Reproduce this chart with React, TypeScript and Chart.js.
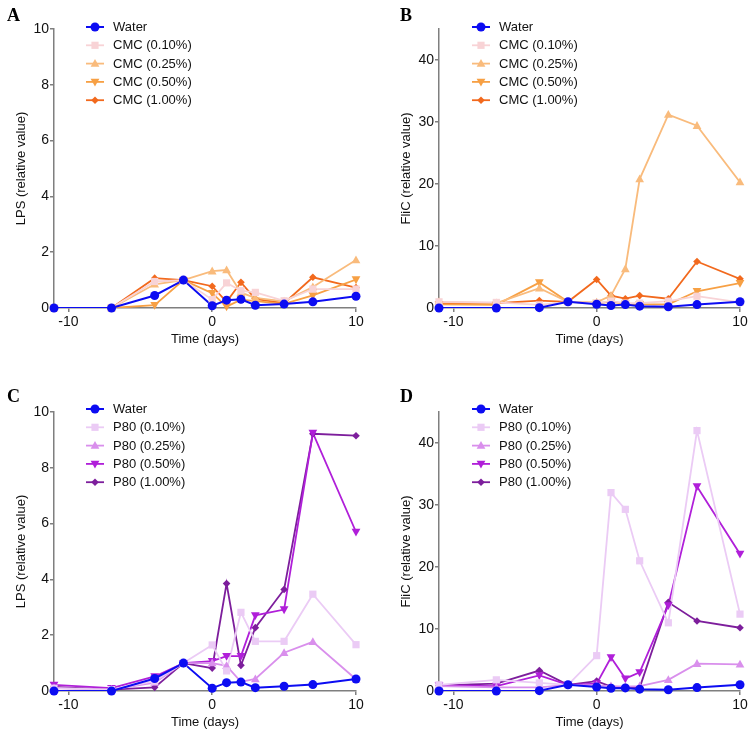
import React, { useEffect, useRef } from "react";
import { Chart, registerables } from "chart.js";
Chart.register(...registerables);

// ---------- data ----------
const days = [-11, -7, -4, -2, 0, 1, 2, 3, 5, 7, 10];
const xTicks = [-10, 0, 10];
const lpsTicks = [0, 2, 4, 6, 8, 10];
const flicTicks = [0, 10, 20, 30, 40];

const cmcLabels = ["Water", "CMC (0.10%)", "CMC (0.25%)", "CMC (0.50%)", "CMC (1.00%)"];
const p80Labels = ["Water", "P80 (0.10%)", "P80 (0.25%)", "P80 (0.50%)", "P80 (1.00%)"];

// Panel A: LPS, CMC
const waterLpsA = [0, 0, 0.45, 1, 0.08, 0.28, 0.31, 0.1, 0.14, 0.22, 0.42];
const cmc010Lps = [0, 0, 0.95, 1, 0.3, 0.9, 0.62, 0.56, 0.26, 0.68, 0.68];
const cmc025Lps = [0, 0, 0.85, 1, 1.32, 1.36, 0.55, 0.36, 0.24, 0.75, 1.72];
const cmc050Lps = [0, 0, 0.1, 1, 0.53, 0.05, 0.3, 0.25, 0.15, 0.45, 1.02];
const cmc100Lps = [0, 0, 1.07, 1, 0.78, 0.22, 0.92, 0.33, 0.17, 1.1, 0.73];

// Panel B: FliC, CMC
const waterFlicB = [0, 0, 0.05, 1.0, 0.6, 0.4, 0.55, 0.3, 0.2, 0.55, 1.0];
const cmc010Flic = [1.0, 0.9, 0.5, 1.0, 0.8, 1.1, 0.8, 0.8, 1.1, 1.9, 0.9];
const cmc025Flic = [1.0, 0.8, 3.2, 1.0, 0.9, 2.0, 6.3, 20.8, 31.2, 29.4, 20.3];
const cmc050Flic = [0.6, 0.5, 4.1, 1.0, 0.8, 1.0, 0.7, 0.6, 0.6, 2.7, 4.0];
const cmc100Flic = [0.8, 0.8, 1.2, 1.0, 4.6, 2.0, 1.5, 2.0, 1.5, 7.5, 4.7];

// Panel C: LPS, P80
const waterLpsC = [0, 0, 0.45, 1, 0.1, 0.3, 0.32, 0.12, 0.17, 0.23, 0.43];
const p80010Lps = [0.1, 0.05, 0.35, 1, 1.65, 0.72, 2.82, 1.78, 1.78, 3.47, 1.66];
const p80025Lps = [0.1, 0.05, 0.3, 1, 1.0, 0.9, 0.33, 0.43, 1.37, 1.76, 0.42];
const p80050Lps = [0.22, 0.1, 0.52, 1, 1.07, 1.25, 1.25, 2.71, 2.92, 9.25, 5.7];
const p80100Lps = [0.15, 0.05, 0.13, 1, 0.82, 3.85, 0.92, 2.27, 3.64, 9.22, 9.15];

// Panel D: FliC, P80
const waterFlicD = [0, 0, 0.05, 1.0, 0.65, 0.45, 0.5, 0.3, 0.2, 0.55, 1.0];
const p80010Flic = [1.0, 1.8, 1.3, 1.0, 5.7, 32, 29.3, 21, 11, 42, 12.4];
const p80025Flic = [0.8, 0.6, 0.6, 1.0, 0.9, 0.8, 0.7, 0.8, 1.8, 4.4, 4.3];
const p80050Flic = [0.9, 0.8, 2.5, 1.0, 1.2, 5.4, 2.0, 3.0, 13.8, 33, 22.1];
const p80100Flic = [0.9, 1.2, 3.3, 1.0, 1.6, 0.7, 0.5, 0.5, 14.3, 11.3, 10.2];

// ---------- styles ----------
const cmcColors = ["#0c0cf2", "#f8d3d6", "#f9bb7c", "#f7a044", "#f2691d"];
const p80Colors = ["#0c0cf2", "#ebcbf5", "#d98fec", "#b01fd9", "#7d1e9c"];
const markers = ["circle", "rect", "triUp", "triDown", "diamond"];
const markerSize = [4.5, 3.6, 4.6, 4.6, 3.8];

const FONT = "Arial, 'Liberation Sans', sans-serif";
const AXIS = "#7f7f7f";

function drawMarker(ctx: CanvasRenderingContext2D, kind: string, x: number, y: number, r: number, color: string) {
  ctx.save();
  ctx.fillStyle = color;
  ctx.beginPath();
  if (kind === "circle") {
    ctx.arc(x, y, r, 0, Math.PI * 2);
  } else if (kind === "rect") {
    ctx.rect(x - r, y - r, 2 * r, 2 * r);
  } else if (kind === "triUp") {
    ctx.moveTo(x, y - r);
    ctx.lineTo(x + r * 0.95, y + r * 0.7);
    ctx.lineTo(x - r * 0.95, y + r * 0.7);
    ctx.closePath();
  } else if (kind === "triDown") {
    ctx.moveTo(x, y + r);
    ctx.lineTo(x + r * 0.95, y - r * 0.7);
    ctx.lineTo(x - r * 0.95, y - r * 0.7);
    ctx.closePath();
  } else {
    ctx.moveTo(x, y - r);
    ctx.lineTo(x + r, y);
    ctx.lineTo(x, y + r);
    ctx.lineTo(x - r, y);
    ctx.closePath();
  }
  ctx.fill();
  ctx.restore();
}

const markerPlugin = {
  id: "customMarkers",
  afterDatasetsDraw(chart: any) {
    const ctx = chart.ctx;
    const n = chart.data.datasets.length;
    for (let i = n - 1; i >= 0; i--) {
      const meta = chart.getDatasetMeta(i);
      const ds = chart.data.datasets[i];
      meta.data.forEach((pt: any) => {
        drawMarker(ctx, markers[i], pt.x, pt.y, markerSize[i], ds.borderColor);
      });
    }
  },
};

const legendPlugin = {
  id: "insideLegend",
  afterDraw(chart: any, _args: any, opts: any) {
    const ctx = chart.ctx;
    ctx.save();
    chart.data.datasets.forEach((ds: any, i: number) => {
      const y = opts.y + i * opts.rowH;
      ctx.strokeStyle = ds.borderColor;
      ctx.lineWidth = ds.borderWidth;
      ctx.beginPath();
      ctx.moveTo(opts.x, y);
      ctx.lineTo(opts.x + 18, y);
      ctx.stroke();
      drawMarker(ctx, markers[i], opts.x + 9, y, markerSize[i], ds.borderColor);
      ctx.fillStyle = "#111";
      ctx.font = `13px ${FONT}`;
      ctx.textBaseline = "middle";
      ctx.textAlign = "left";
      ctx.fillText(ds.label, opts.x + opts.textOff, y + 0.5);
    });
    ctx.restore();
  },
};

type PanelCfg = {
  left: number;
  top: number;
  letter: string;
  labels: string[];
  colors: string[];
  series: number[][];
  ymax: number;
  yTicks: number[];
  ytitle: string;
  yW: number;
  topPad: number;
  rightPad: number;
  xH: number;
  yTitlePad: number;
  xTitlePad: number;
  legX: number;
  legY: number;
  letterX: number;
  letterY: number;
};

const W = 377;
const H = 368;

function Panel({ cfg }: { cfg: PanelCfg }) {
  const ref = useRef<HTMLCanvasElement>(null);
  useEffect(() => {
    if (!ref.current) return;
    const datasets = cfg.series.map((vals, i) => ({
      label: cfg.labels[i],
      data: days.map((d, j) => ({ x: d, y: vals[j] })),
      borderColor: cfg.colors[i],
      backgroundColor: cfg.colors[i],
      borderWidth: i === 0 ? 2 : 1.8,
      pointRadius: 0,
      tension: 0,
    }));
    const chart = new Chart(ref.current, {
      type: "line",
      data: { datasets },
      plugins: [markerPlugin, legendPlugin],
      options: {
        animation: false,
        responsive: false,
        events: [],
        layout: { padding: { left: 0, top: cfg.topPad, right: cfg.rightPad, bottom: 0 } },
        plugins: {
          legend: { display: false },
          tooltip: { enabled: false },
          insideLegend: { x: cfg.legX, y: cfg.legY, rowH: 18.3, textOff: 27 },
        } as any,
        scales: {
          x: {
            type: "linear",
            min: -11,
            max: 10,
            bounds: "data",
            afterBuildTicks: (s: any) => {
              s.ticks = xTicks.map((v) => ({ value: v }));
            },
            afterFit: (s: any) => {
              s.height = cfg.xH;
            },
            grid: { display: true, drawOnChartArea: false, drawTicks: true, tickLength: 4, color: AXIS, lineWidth: 1.5 },
            border: { display: true, color: AXIS, width: 1.5 },
            ticks: { color: "#111", font: { family: FONT, size: 14 }, padding: 2, maxRotation: 0 },
            title: {
              display: true,
              text: "Time (days)",
              color: "#111",
              font: { family: FONT, size: 13 },
              padding: { top: 0, bottom: cfg.xTitlePad },
            },
          },
          y: {
            type: "linear",
            min: 0,
            max: cfg.ymax,
            bounds: "data",
            afterBuildTicks: (s: any) => {
              s.ticks = cfg.yTicks.map((v) => ({ value: v }));
            },
            afterFit: (s: any) => {
              s.width = cfg.yW;
            },
            grid: { display: true, drawOnChartArea: false, drawTicks: true, tickLength: 4, color: AXIS, lineWidth: 1.5 },
            border: { display: true, color: AXIS, width: 1.5 },
            ticks: { color: "#111", font: { family: FONT, size: 14 }, padding: 1 },
            title: {
              display: true,
              text: cfg.ytitle,
              color: "#111",
              font: { family: FONT, size: 13 },
              padding: { top: cfg.yTitlePad, bottom: 0 },
            },
          },
        },
      } as any,
    });
    return () => chart.destroy();
  }, [cfg]);
  return (
    <div style={{ position: "absolute", left: cfg.left, top: cfg.top, width: W, height: H }}>
      <canvas ref={ref} width={W} height={H} style={{ width: W, height: H, display: "block" }} />
      <div
        style={{
          position: "absolute",
          left: cfg.letterX,
          top: cfg.letterY,
          fontFamily: "'Times New Roman', 'Liberation Serif', serif",
          fontWeight: "bold",
          fontSize: 18,
          lineHeight: "18px",
          color: "#000",
        }}
      >
        {cfg.letter}
      </div>
    </div>
  );
}

const panels: PanelCfg[] = [
  {
    left: 0, top: 0, letter: "A", labels: cmcLabels, colors: cmcColors,
    series: [waterLpsA, cmc010Lps, cmc025Lps, cmc050Lps, cmc100Lps],
    ymax: 10, yTicks: lpsTicks, ytitle: "LPS (relative value)",
    yW: 54, topPad: 29, rightPad: 21, xH: 60, yTitlePad: 14, xTitlePad: 21,
    legX: 86, legY: 27, letterX: 7, letterY: 6,
  },
  {
    left: 377, top: 0, letter: "B", labels: cmcLabels, colors: cmcColors,
    series: [waterFlicB, cmc010Flic, cmc025Flic, cmc050Flic, cmc100Flic],
    ymax: 45, yTicks: flicTicks, ytitle: "FliC (relative value)",
    yW: 62, topPad: 29, rightPad: 14, xH: 60, yTitlePad: 22, xTitlePad: 21,
    legX: 95, legY: 27, letterX: 23, letterY: 6,
  },
  {
    left: 0, top: 368, letter: "C", labels: p80Labels, colors: p80Colors,
    series: [waterLpsC, p80010Lps, p80025Lps, p80050Lps, p80100Lps],
    ymax: 10, yTicks: lpsTicks, ytitle: "LPS (relative value)",
    yW: 54, topPad: 44, rightPad: 21, xH: 45, yTitlePad: 14, xTitlePad: 6,
    legX: 86, legY: 41, letterX: 7, letterY: 19,
  },
  {
    left: 377, top: 368, letter: "D", labels: p80Labels, colors: p80Colors,
    series: [waterFlicD, p80010Flic, p80025Flic, p80050Flic, p80100Flic],
    ymax: 45, yTicks: flicTicks, ytitle: "FliC (relative value)",
    yW: 62, topPad: 44, rightPad: 14, xH: 45, yTitlePad: 22, xTitlePad: 6,
    legX: 95, legY: 41, letterX: 23, letterY: 19,
  },
];

export default function App() {
  return (
    <div style={{ position: "absolute", left: 0, top: 0, width: 754, height: 736, background: "#fff", overflow: "hidden" }}>
      {panels.map((p) => (
        <Panel key={p.letter} cfg={p} />
      ))}
    </div>
  );
}
